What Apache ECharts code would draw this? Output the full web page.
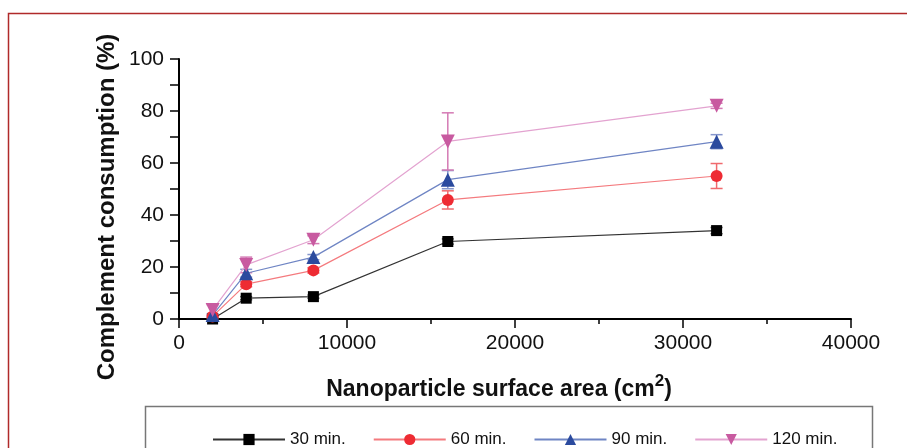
<!DOCTYPE html>
<html>
<head>
<meta charset="utf-8">
<script src="https://cdn.jsdelivr.net/npm/echarts@6/dist/echarts.min.js"></script>
<style>
  html, body { margin: 0; padding: 0; background: #fff; }
  #chart { width: 907px; height: 448px; }
</style>
</head>
<body>
<div id="chart"></div>
<script>
// surface area (cm2)
const areas = [2000, 4000, 8000, 16000, 32000];
const xTicks = [0, 10000, 20000, 30000, 40000];

// consumption (%) and error (+/-) per incubation time
const min30 = [0, 8, 8.6, 29.8, 34];
const min30Err = [0.3, 0.6, 0.6, 1, 1.2];
const min60 = [1, 13.4, 18.7, 45.8, 55];
const min60Err = [0.5, 1, 1, 3.5, 4.8];
const min90 = [1.5, 17.6, 23.8, 53.6, 68.2];
const min90Err = [0.5, 1.5, 1, 3.5, 2.7];
const min120 = [3.5, 20.8, 30.5, 68.3, 82];
const min120Err = [2, 3, 1.5, 11, 1];

const names = ['30 min.', '60 min.', '90 min.', '120 min.'];

const chart = echarts.init(document.getElementById('chart'));

function lineSeries(name, vals, symbol, size, markColor, lineColor, rotate) {
  return {
    name: name,
    type: 'line',
    data: areas.map((x, i) => [x, vals[i]]),
    symbol: symbol,
    symbolSize: size,
    symbolRotate: rotate || 0,
    showAllSymbol: true,
    itemStyle: { color: markColor, opacity: 1 },
    lineStyle: { color: lineColor, width: 1.2 },
    z: 3
  };
}

function errSeries(vals, errs, color) {
  return {
    type: 'custom',
    data: areas.map((x, i) => [x, vals[i] - errs[i], vals[i] + errs[i]]),
    z: 2,
    silent: true,
    renderItem: function (params, api) {
      const lo = api.coord([api.value(0), api.value(1)]);
      const hi = api.coord([api.value(0), api.value(2)]);
      const w = 6;
      const st = { stroke: color, lineWidth: 1.5 };
      return {
        type: 'group',
        children: [
          { type: 'line', shape: { x1: lo[0], y1: lo[1], x2: hi[0], y2: hi[1] }, style: st },
          { type: 'line', shape: { x1: lo[0] - w, y1: lo[1], x2: lo[0] + w, y2: lo[1] }, style: st },
          { type: 'line', shape: { x1: hi[0] - w, y1: hi[1], x2: hi[0] + w, y2: hi[1] }, style: st }
        ]
      };
    }
  };
}

const option = {
  animation: false,
  backgroundColor: '#fff',
  textStyle: { fontFamily: 'Liberation Sans, Arial, sans-serif' },
  grid: { left: 179, right: 56, top: 59, bottom: 129, containLabel: false },
  xAxis: {
    type: 'value',
    min: xTicks[0],
    max: xTicks[xTicks.length - 1],
    interval: 10000,
    axisLine: { onZero: false, lineStyle: { color: '#000', width: 2 } },
    axisTick: { inside: false, length: 9, lineStyle: { color: '#000', width: 1.5 } },
    minorTick: { show: true, splitNumber: 2, length: 5, lineStyle: { color: '#000', width: 1.5 } },
    splitLine: { show: false },
    axisLabel: { fontSize: 21, color: '#111', margin: 14, formatter: v => String(v) }
  },
  yAxis: {
    type: 'value',
    min: 0,
    max: 100,
    interval: 20,
    axisLine: { show: true, lineStyle: { color: '#000', width: 2 } },
    axisTick: { show: true, inside: false, length: 9, lineStyle: { color: '#000', width: 1.5 } },
    minorTick: { show: true, splitNumber: 2, length: 9, lineStyle: { color: '#000', width: 1.5 } },
    splitLine: { show: false },
    axisLabel: { fontSize: 21, color: '#111', margin: 15 }
  },
  legend: {
    data: names,
    left: 207,
    top: 426,
    itemWidth: 72,
    itemHeight: 14,
    itemGap: 27,
    textStyle: { fontSize: 17, color: '#111', fontFamily: 'Liberation Sans, Arial, sans-serif' }
  },
  graphic: [
    {
      type: 'rect',
      shape: { x: 8.5, y: 13.5, width: 1000, height: 600 },
      style: { fill: 'none', stroke: '#b02a2a', lineWidth: 1.5 },
      silent: true
    },
    {
      type: 'rect',
      shape: { x: 145.5, y: 406.5, width: 727, height: 80 },
      style: { fill: 'none', stroke: '#777', lineWidth: 1.5 },
      silent: true
    },
    {
      type: 'text',
      x: 107,
      y: 207,
      rotation: Math.PI / 2,
      style: {
        text: 'Complement consumption (%)',
        fontSize: 24,
        fontWeight: 'bold',
        fontFamily: 'Liberation Sans, Arial, sans-serif',
        fill: '#111',
        align: 'center',
        verticalAlign: 'middle'
      }
    },
    {
      type: 'text',
      x: 499,
      y: 385,
      style: {
        text: '{n|Nanoparticle surface area (cm}{s|2}{n|)}',
        align: 'center',
        verticalAlign: 'middle',
        rich: {
          n: { fontSize: 23, fontWeight: 'bold', fill: '#111', fontFamily: 'Liberation Sans, Arial, sans-serif', padding: [9, 0, 0, 0] },
          s: { fontSize: 17, fontWeight: 'bold', fill: '#111', fontFamily: 'Liberation Sans, Arial, sans-serif', padding: [0, 0, 7, 0] }
        }
      }
    }
  ],
  series: [
    errSeries(min30, min30Err, '#555'),
    errSeries(min60, min60Err, '#f06a6e'),
    errSeries(min90, min90Err, '#8696cc'),
    errSeries(min120, min120Err, '#d47ab4'),
    lineSeries(names[0], min30, 'rect', 11, '#000', '#333'),
    lineSeries(names[1], min60, 'circle', 12, '#ee2b33', '#f47a7e'),
    lineSeries(names[2], min90, 'triangle', 14, '#2b4a9e', '#6f85c4'),
    lineSeries(names[3], min120, 'triangle', 14, '#c85aa0', '#e3a3d0', 180)
  ]
};

chart.setOption(option);
</script>
</body>
</html>
